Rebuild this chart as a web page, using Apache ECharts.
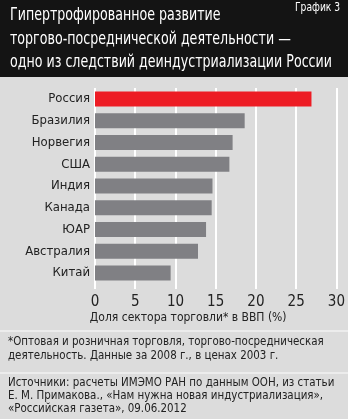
<!DOCTYPE html>
<html><head><meta charset="utf-8">
<script src="https://cdn.jsdelivr.net/npm/echarts@6/dist/echarts.min.js"></script>
<style>html,body{margin:0;padding:0;background:#dcdcdc}#c{width:348px;height:419px}</style>
</head><body><div id="c"></div>
<script>
const categories = ['Россия','Бразилия','Норвегия','США','Индия','Канада','ЮАР','Австралия','Китай'];
const values = [26.9, 18.6, 17.1, 16.7, 14.6, 14.5, 13.8, 12.8, 9.4];
const highlight = 'Россия';
const xTicks = [0, 5, 10, 15, 20, 25, 30];
const FONT = "'DejaVu Sans Condensed','Liberation Sans Narrow',sans-serif";

const chart = echarts.init(document.getElementById('c'), null, {renderer:'canvas'});
chart.setOption({
  backgroundColor: '#dcdcdc',
  animation: false,
  textStyle: {fontFamily: FONT},
  grid: {left: 95, right: 10, top: 88, height: 196, containLabel: false},
  xAxis: {
    type: 'value', min: xTicks[0], max: xTicks[xTicks.length-1], interval: 5,
    axisLine: {show: false},
    axisTick: {show: true, length: 5, lineStyle: {color: '#ffffff', width: 2}},
    splitLine: {show: true, lineStyle: {color: '#ffffff', width: 2}},
    axisLabel: {margin: 11, fontSize: 15, color: '#222', fontFamily: FONT},
    name: 'Доля сектора торговли* в ВВП (%)',
    nameLocation: 'middle', nameGap: 28,
    nameTextStyle: {fontSize: 12, color: '#222', fontFamily: FONT, padding: [0, 55, 0, 0]}
  },
  yAxis: {
    type: 'category', data: categories, inverse: true,
    axisLine: {show: false}, axisTick: {show: false},
    axisLabel: {margin: 5, fontSize: 13, color: '#222', fontFamily: FONT}
  },
  series: [{
    type: 'bar', barWidth: 15,
    data: values.map((v, i) => ({value: v, itemStyle: {color: categories[i] === highlight ? '#ed1c24' : '#808084'}})),
    itemStyle: {color: '#808084'}
  }],
  graphic: [
    {type: 'rect', x: 0, y: 0, shape: {width: 348, height: 77}, style: {fill: '#141414'}, z: 0},
    {type: 'text', x: 10, y: 4, scaleX: 0.78, style: {
      text: 'Гипертрофированное развитие\nторгово-посреднической деятельности —\nодно из следствий деиндустриализации России',
      fill: '#ffffff', font: "18px " + FONT, lineHeight: 23.5}},
    {type: 'text', x: 295, y: 2, scaleX: 0.85, style: {text: 'График 3', fill: '#ffffff', font: "12px " + FONT}},
    {type: 'rect', x: 0, y: 330, shape: {width: 348, height: 2}, style: {fill: '#ececec'}},
    {type: 'text', x: 8, y: 335, scaleX: 0.88, style: {
      text: '*Оптовая и розничная торговля, торгово-посредническая\nдеятельность. Данные за 2008 г., в ценах 2003 г.',
      fill: '#222', font: "13px " + FONT, lineHeight: 14}},
    {type: 'rect', x: 0, y: 372, shape: {width: 348, height: 2}, style: {fill: '#ececec'}},
    {type: 'text', x: 8, y: 376, scaleX: 0.88, style: {
      text: 'Источники: расчеты ИМЭМО РАН по данным ООН, из статьи\nЕ. М. Примакова., «Нам нужна новая индустриализация»,\n«Российская газета», 09.06.2012',
      fill: '#222', font: "13px " + FONT, lineHeight: 13}}
  ]
});
</script></body></html>
